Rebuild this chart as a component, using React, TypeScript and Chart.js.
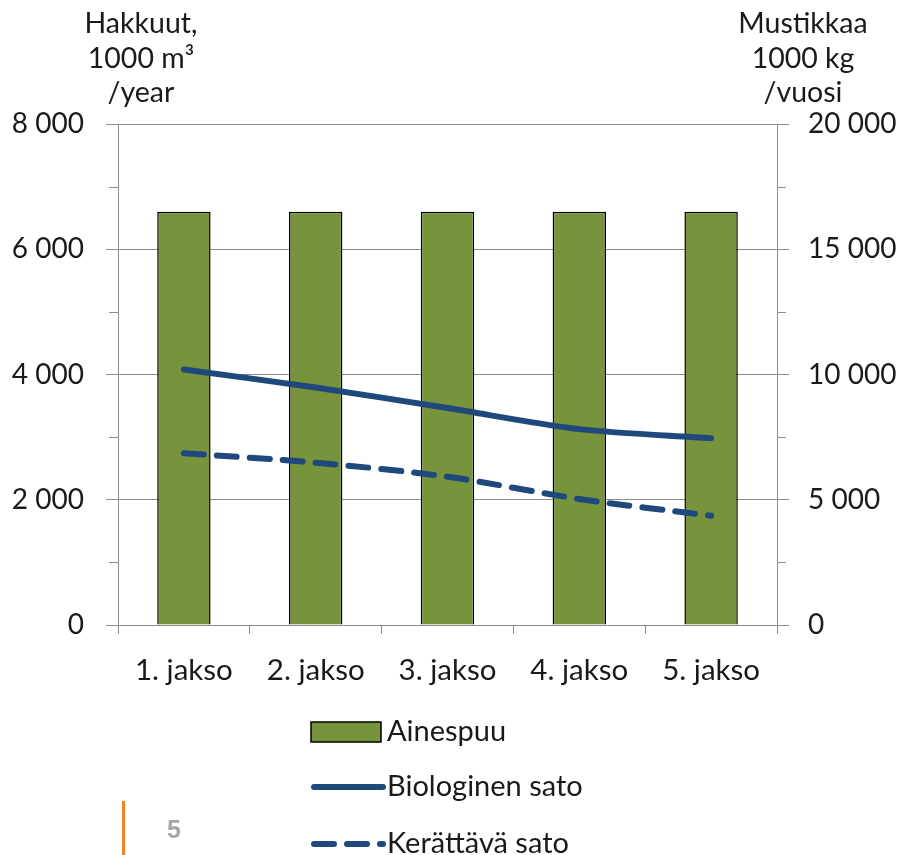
import React, { useEffect, useRef } from "react";
import { Chart, registerables } from "chart.js";

Chart.register(...registerables);

const categories = ["1. jakso", "2. jakso", "3. jakso", "4. jakso", "5. jakso"];
const ainespuu = [6600, 6600, 6600, 6600, 6600];
const biologinen = [10200, 9480, 8660, 7820, 7460];
const kerattava = [6860, 6480, 5920, 5030, 4360];
const seriesLabels = ["Ainespuu", "Biologinen sato", "Kerättävä sato"];
const leftTitle = ["Hakkuut,", "1000 m³", "/year"];
const rightTitle = ["Mustikkaa", "1000 kg", "/vuosi"];
const leftMax = 8000;
const leftStep = 2000;
const rightMax = 20000;
const rightStep = 5000;
const pageNumber = "5";

const GREEN = "#77933C";
const BLUE = "#1F497D";
const GRID = "#8C8C8C";
const TEXT = "#1A1A1A";
const FONT = "Lato";

const fmt = (v: number) => String(v).replace(/\B(?=(\d{3})+(?!\d))/g, " ");

const decorPlugin = {
  id: "decor",
  afterDraw(chart: any) {
    const ctx = chart.ctx as CanvasRenderingContext2D;
    const ys = chart.scales.y;
    const yr = chart.scales.y1;
    ctx.save();
    // minor ticks
    ctx.strokeStyle = GRID;
    ctx.lineWidth = 1;
    for (let v = leftStep / 2; v < leftMax; v += leftStep) {
      const p = Math.round(ys.getPixelForValue(v)) + 0.5;
      ctx.beginPath();
      ctx.moveTo(ys.right - 9, p);
      ctx.lineTo(ys.right, p);
      ctx.stroke();
    }
    for (let v = rightStep / 2; v < rightMax; v += rightStep) {
      const p = Math.round(yr.getPixelForValue(v)) + 0.5;
      ctx.beginPath();
      ctx.moveTo(yr.left, p);
      ctx.lineTo(yr.left + 9, p);
      ctx.stroke();
    }
    // axis titles
    ctx.fillStyle = TEXT;
    ctx.font = `28.5px ${FONT}`;
    ctx.textAlign = "center";
    ctx.textBaseline = "alphabetic";
    const baselines = [33, 68, 102];
    leftTitle.forEach((t, i) => ctx.fillText(t, 141, baselines[i]));
    rightTitle.forEach((t, i) => ctx.fillText(t, 803, baselines[i]));
    // legend
    const rows = [732, 787, 844];
    const x0 = 311;
    const symW = 70;
    chart.data.datasets.forEach((ds: any, i: number) => {
      const cy = rows[i];
      if (ds.type === "bar") {
        ctx.fillStyle = ds.backgroundColor;
        ctx.fillRect(x0, cy - 10, symW, 20);
        ctx.strokeStyle = "#000";
        ctx.lineWidth = 1.5;
        ctx.strokeRect(x0, cy - 10, symW, 20);
      } else {
        ctx.strokeStyle = ds.borderColor;
        ctx.lineWidth = ds.borderWidth;
        ctx.lineCap = "round";
        ctx.setLineDash(ds.borderDash || []);
        ctx.beginPath();
        ctx.moveTo(x0 + 3, cy);
        ctx.lineTo(x0 + symW + 2, cy);
        ctx.stroke();
        ctx.setLineDash([]);
      }
      ctx.fillStyle = TEXT;
      ctx.font = `29px ${FONT}`;
      ctx.textAlign = "left";
      ctx.textBaseline = "middle";
      ctx.fillText(ds.label, x0 + symW + 6, cy);
    });
    ctx.restore();
  },
};

export default function App() {
  const ref = useRef<HTMLCanvasElement | null>(null);

  useEffect(() => {
    if (!ref.current) return;
    const chart = new Chart(ref.current, {
      type: "bar",
      data: {
        labels: categories,
        datasets: [
          {
            type: "bar",
            label: seriesLabels[0],
            data: ainespuu,
            yAxisID: "y",
            backgroundColor: GREEN,
            borderColor: "#000000",
            borderWidth: 1.5,
            barPercentage: 0.405,
            categoryPercentage: 1,
            order: 2,
          },
          {
            type: "line",
            label: seriesLabels[1],
            data: biologinen,
            yAxisID: "y1",
            borderColor: BLUE,
            backgroundColor: BLUE,
            borderWidth: 6,
            tension: 0.3,
            pointRadius: 0,
            borderCapStyle: "round",
            borderJoinStyle: "round",
            order: 1,
          },
          {
            type: "line",
            label: seriesLabels[2],
            data: kerattava,
            yAxisID: "y1",
            borderColor: BLUE,
            backgroundColor: BLUE,
            borderWidth: 6,
            borderDash: [20, 13],
            tension: 0.3,
            pointRadius: 0,
            borderCapStyle: "round",
            borderJoinStyle: "round",
            order: 0,
          },
        ] as any,
      },
      options: {
        responsive: false,
        animation: false,
        events: [],
        layout: { padding: { top: 124, left: 0, right: 0, bottom: 0 } },
        plugins: {
          legend: { display: false },
          tooltip: { enabled: false },
          title: { display: false },
        },
        scales: {
          x: {
            offset: true,
            grid: {
              display: true,
              drawOnChartArea: false,
              offset: true,
              color: GRID,
              tickLength: 9,
            },
            border: { color: GRID, width: 1 },
            ticks: {
              font: { family: FONT, size: 29.5 },
              color: TEXT,
              padding: 19,
              maxRotation: 0,
              autoSkip: false,
            },
            afterFit: (s: any) => {
              s.height = 230;
            },
          },
          y: {
            position: "left",
            min: 0,
            max: leftMax,
            ticks: {
              stepSize: leftStep,
              font: { family: FONT, size: 28 },
              color: TEXT,
              padding: 22,
              callback: (v: any) => fmt(Number(v)),
            },
            grid: { color: GRID, tickLength: 12, lineWidth: 1 },
            border: { color: GRID, width: 1 },
            afterFit: (s: any) => {
              s.width = 118;
            },
          },
          y1: {
            position: "right",
            min: 0,
            max: rightMax,
            ticks: {
              stepSize: rightStep,
              font: { family: FONT, size: 28 },
              color: TEXT,
              padding: 19,
              callback: (v: any) => fmt(Number(v)),
            },
            grid: { drawOnChartArea: false, color: GRID, tickLength: 12 },
            border: { color: GRID, width: 1 },
            afterFit: (s: any) => {
              s.width = 120;
            },
          },
        },
      } as any,
      plugins: [decorPlugin],
    });
    return () => chart.destroy();
  }, []);

  return (
    <div style={{ position: "absolute", left: 0, top: 0, width: 897, height: 855, background: "#fff" }}>
      <canvas ref={ref} width={897} height={855} style={{ width: 897, height: 855, display: "block" }} />
      <div
        style={{
          position: "absolute",
          left: 122,
          top: 801,
          width: 3,
          height: 54,
          background: "#F58025",
        }}
      />
      <div
        style={{
          position: "absolute",
          left: 167,
          top: 814,
          fontFamily: "Liberation Sans, Arial, sans-serif",
          fontWeight: "bold",
          fontSize: 25,
          color: "#A6A6A6",
          lineHeight: "30px",
        }}
      >
        {pageNumber}
      </div>
    </div>
  );
}
